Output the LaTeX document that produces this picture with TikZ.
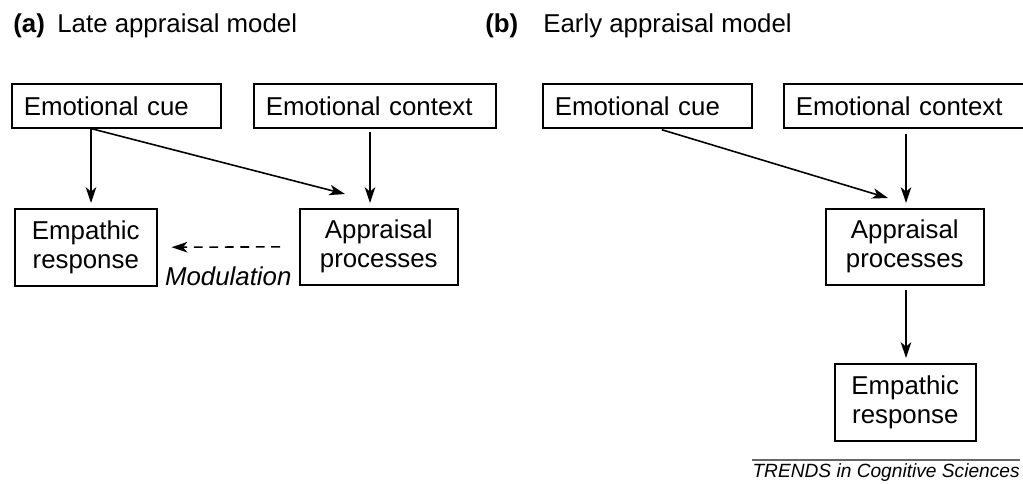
\documentclass[tikz,border=0pt]{standalone}
\usepackage{fontspec}
\setmainfont{Liberation Sans}
\usetikzlibrary{arrows.meta}
\usetikzlibrary{calc}

\begin{document}
\begin{tikzpicture}[x = 0.02cm, y = -0.02cm,
    box/.style = {draw, line width = 0.9pt, inner xsep = 0.24cm, inner ysep = 0pt,
        font = \fontsize{14.7}{16.5}\selectfont, anchor = north west, minimum height = 0.88cm},
    arr/.style = {line width = 0.9pt, -{Stealth[length = 9pt, width = 6pt, inset = 2.5pt]}},
    ttl/.style = {font = \fontsize{14.7}{16.5}\selectfont, anchor = base west, inner sep = 0pt}]
    \useasboundingbox (0, 0) rectangle (1023, 483);
    % (a) late appraisal
    \node [ttl] (labA) at (13, 33) {\textbf{(a)}};
    \node [ttl] (titleA) at (57, 33) {Late appraisal model};
    \node [box, text width = 3.70cm, align = left] (cueA) at (11, 83) {Emotional cue};
    \node [box, text width = 4.36cm, align = left] (ctxA) at (253, 83) {Emotional context};
    \node [box, text width = 2.36cm, align = center, minimum height = 1.54cm] (empA) at (14, 208) {Empathic\\response};
    \node [box, text width = 2.68cm, align = center, minimum height = 1.52cm] (aprA) at (299, 208) {Appraisal\\processes};
    \draw [arr, shorten > = 0.1cm] (cueA.south -| 91, 0) -- (empA.north -| 91, 0);
    \draw [arr] (cueA.south -| 91, 0) -- ($(aprA.north west) + (46, -14)$);
    \draw [arr, shorten < = 0.06cm, shorten > = 0.1cm] (ctxA.south -| 370, 0) -- (aprA.north -| 370, 0);
    \draw [arr, dash pattern = on 5pt off 3.8pt, shorten < = 0.38cm, shorten > = 0.28cm] (aprA.west) -- (empA.east)
        node [midway, anchor = base, yshift = -0.76cm, font = \fontsize{14.7}{16.5}\selectfont\itshape] (modA) {Modulation};
    % (b) early appraisal
    \node [ttl] (labB) at (485, 33) {\textbf{(b)}};
    \node [ttl] (titleB) at (543, 33) {Early appraisal model};
    \node [box, text width = 3.70cm, align = left] (cueB) at (542, 83) {Emotional cue};
    \node [box, text width = 4.36cm, align = left] (ctxB) at (783, 83) {Emotional context};
    \node [box, text width = 2.68cm, align = center, minimum height = 1.52cm] (aprB) at (825, 208) {Appraisal\\processes};
    \node [box, text width = 2.34cm, align = center, minimum height = 1.54cm] (empB) at (834, 363) {Empathic\\response};
    \draw [arr, shorten < = 0.08cm] (cueB.south -| 658, 0) -- ($(aprB.north west) + (63, -10)$);
    \draw [arr, shorten < = 0.1cm, shorten > = 0.1cm] (ctxB.south -| 906, 0) -- (aprB.north -| 906, 0);
    \draw [arr, shorten < = 0.08cm, shorten > = 0.1cm] (aprB.south -| 906, 0) -- (empB.north -| 906, 0);
    % credit line
    \node [anchor = base east, inner sep = 0pt, font = \fontsize{10.9}{13}\selectfont\itshape] (credit) at (1020, 477) {TRENDS in Cognitive Sciences};
    \draw [black!60, line width = 0.7pt] (credit.west |- 0, 460) -- (credit.east |- 0, 460);
\end{tikzpicture}
\end{document}
